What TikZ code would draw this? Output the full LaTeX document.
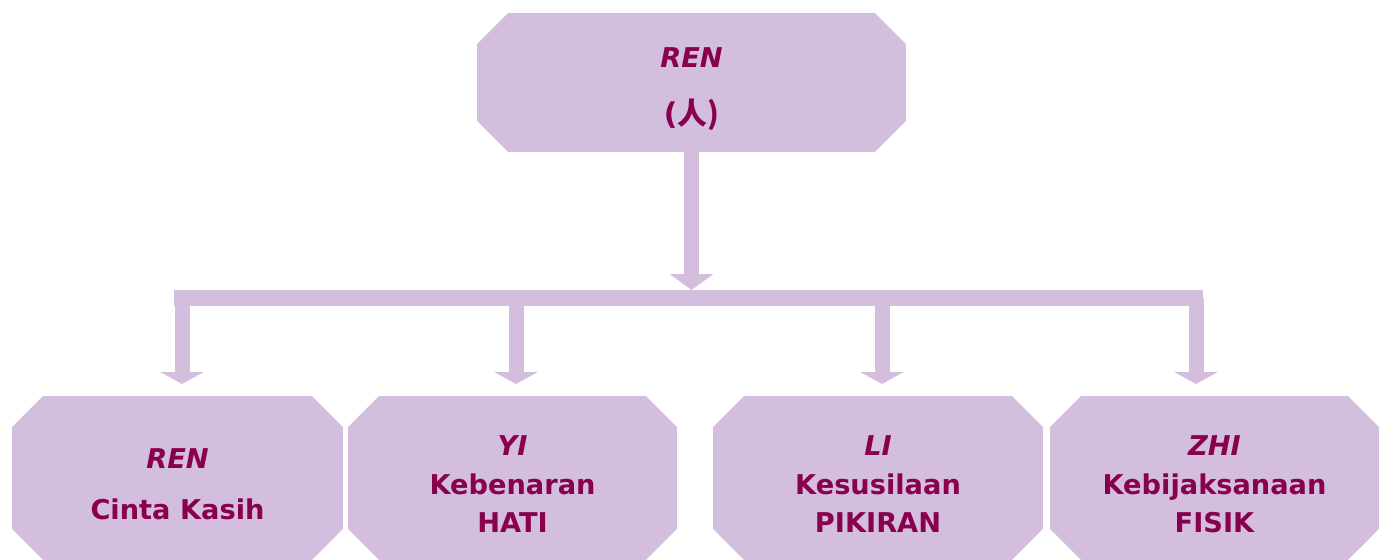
\documentclass[tikz,border=0pt]{standalone}
\usepackage{fontspec}
\setmainfont{DejaVu Sans}
\newfontfamily\cjk{Noto Sans CJK SC}
\usetikzlibrary{shapes.misc,arrows.meta}
\definecolor{lilac}{RGB}{212,190,222}
\definecolor{plum}{RGB}{136,0,78}
% baris pertama sedikit diturunkan
\newcommand\turun{\rule{0pt}{18.5pt}}
\tikzset{
  konsep/.style={chamfered rectangle,chamfered rectangle xsep=0.31cm,
    chamfered rectangle ysep=0.31cm,fill=lilac,draw=none,text=plum,
    align=center,inner sep=0pt,font=\bfseries\fontsize{15.5}{22}\selectfont},
  pipa/.style={draw=lilac,line width=0.3cm},
  panah/.style={pipa,-{Triangle[width=0.86cm,length=#1]}},
  panah/.default=0.24cm,
}
\begin{document}
\begin{tikzpicture}[x=0.02cm,y=-0.02cm]
  \useasboundingbox (0,0) rectangle (1381,559);
  % kotak utama
  \node[konsep,minimum width=8.58cm,minimum height=2.78cm] (ren) at (691.5,82.5)
    {\turun\textit{REN}\\[10.5pt]{\fontsize{17}{22}\selectfont(\cjk 人)}};
  % empat kotak nilai
  \node[konsep,minimum width=6.62cm,minimum height=3.28cm] (cinta) at (177.5,478)
    {\turun\textit{REN}\\[7.5pt]Cinta Kasih};
  \node[konsep,minimum width=6.58cm,minimum height=3.28cm] (yi) at (512.5,478)
    {\turun\textit{YI}\\Kebenaran\\HATI};
  \node[konsep,minimum width=6.6cm,minimum height=3.28cm] (li) at (878,478)
    {\turun\textit{LI}\\Kesusilaan\\PIKIRAN};
  \node[konsep,minimum width=6.58cm,minimum height=3.28cm] (zhi) at (1214.5,478)
    {\turun\textit{ZHI}\\Kebijaksanaan\\FISIK};
  % palang dan panah
  \coordinate (kiri) at (174,298);
  \coordinate (kanan) at (1203,298);
  \coordinate (puncak) at (691.5,290);
  \draw[pipa,line width=0.32cm] (kiri) -- (kanan);
  \draw[panah=0.32cm] (ren.south) -- (puncak);
  \coordinate (u1) at (182,384);
  \coordinate (u2) at (516,384);
  \coordinate (u3) at (882,384);
  \coordinate (u4) at (1196,384);
  \foreach \u in {u1,u2,u3,u4}
    \draw[panah] (\u |- kiri) -- (\u);
\end{tikzpicture}
\end{document}
